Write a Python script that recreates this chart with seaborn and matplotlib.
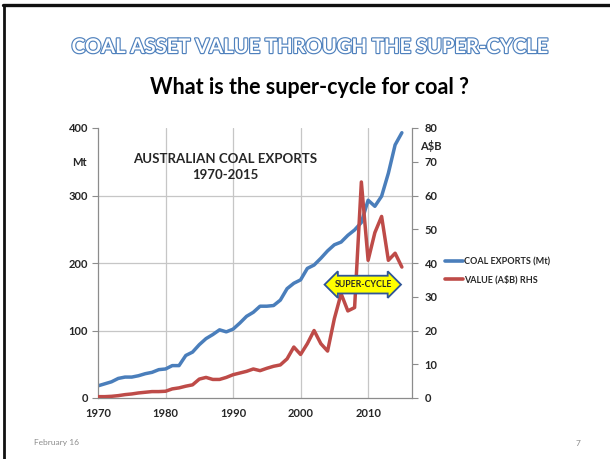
import matplotlib
matplotlib.use("Agg")
import matplotlib.pyplot as plt
import matplotlib.patheffects as pe
from matplotlib.lines import Line2D
import seaborn as sns
import pandas as pd

# ---------------- data ----------------
years = list(range(1970, 2016))
coal_exports_mt = [18, 21, 24, 29, 31, 31, 33, 36, 38, 42,
                   43, 48, 48, 63, 68, 79, 88, 94, 101, 98,
                   102, 111, 121, 127, 136, 136, 137, 145, 162, 170,
                   175, 192, 197, 207, 218, 227, 231, 241, 249, 260,
                   293, 284, 299, 333, 375, 393]
value_ab = [0.4, 0.4, 0.5, 0.7, 1.0, 1.2, 1.5, 1.7, 1.9, 1.9,
            2.0, 2.7, 3.0, 3.5, 3.9, 5.6, 6.1, 5.5, 5.5, 6.1,
            6.9, 7.4, 7.9, 8.6, 8.1, 8.8, 9.4, 9.8, 11.6, 15.1,
            12.9, 16.1, 20.0, 16.1, 13.9, 23.5, 30.9, 25.8, 26.8, 64.0,
            40.8, 49.0, 53.8, 40.8, 42.9, 38.8]
x_ticks = [1970, 1980, 1990, 2000, 2010]
left_ticks = [0, 100, 200, 300, 400]
right_ticks = [0, 10, 20, 30, 40, 50, 60, 70, 80]

series_names = ["COAL EXPORTS (Mt)", "VALUE (A$B) RHS"]
title_text = "COAL ASSET VALUE THROUGH THE SUPER-CYCLE"
subtitle_text = "What is the super-cycle for coal ?"
inner_title = "AUSTRALIAN COAL EXPORTS\n1970-2015"
arrow_label = "SUPER-CYCLE"

BLUE = "#4a7ebb"
RED = "#be4b48"
AXC = "#8c8c8c"
GRID = "#c6c6c6"

sns.set_theme(style="white")
plt.rcParams['font.family'] = ['Lato', 'DejaVu Sans']

df = pd.DataFrame({"year": years, "mt": coal_exports_mt, "ab": value_ab})

fig = plt.figure(figsize=(6.1, 4.59), dpi=100)
fig.patch.set_facecolor("white")
ax = fig.add_axes([98 / 610, 61 / 459, 314 / 610, 270 / 459])
ax2 = ax.twinx()

sns.lineplot(data=df, x="year", y="mt", ax=ax, color=BLUE, lw=2.5,
             solid_capstyle="round", label=series_names[0], legend=False)
sns.lineplot(data=df, x="year", y="ab", ax=ax2, color=RED, lw=2.5,
             solid_capstyle="round", label=series_names[1], legend=False)

ax.set_xlim(1970, 2016.5)
ax.set_ylim(0, 400)
ax2.set_ylim(0, 80)
ax.set_xticks(x_ticks)
ax.set_yticks(left_ticks)
ax2.set_yticks(right_ticks)
ax.set_xlabel("")
ax.set_ylabel("")
ax2.set_ylabel("")

ax.grid(True, color=GRID, lw=0.9)
ax.yaxis.get_gridlines()[-1].set_visible(False)
ax.yaxis.get_gridlines()[0].set_visible(False)
ax.xaxis.get_gridlines()[0].set_visible(False)
ax2.grid(False)

for a in (ax, ax2):
    for s in a.spines.values():
        s.set_color(AXC)
        s.set_linewidth(0.9)
    a.spines["top"].set_visible(False)
ax.spines["right"].set_visible(False)
ax2.spines["left"].set_visible(False)
ax2.spines["bottom"].set_visible(False)

ax.tick_params(axis="both", direction="out", length=4, width=0.8, color=AXC,
               labelsize=8, pad=3)
ax2.tick_params(axis="y", direction="out", length=4, width=0.8, color=AXC,
                labelsize=8, pad=5, left=False, right=True)
for lab in ax.get_xticklabels() + ax.get_yticklabels() + ax2.get_yticklabels():
    lab.set_fontweight("bold")

# axis unit labels
fig.text(79 / 610, 1 - 162 / 459, "Mt", fontsize=8, fontweight="bold",
         ha="center", va="center")
fig.text(431 / 610, 1 - 146 / 459, "A$B", fontsize=8, fontweight="bold",
         ha="center", va="center")

# inner title
ax.text(0.405, 0.855, inner_title, transform=ax.transAxes, ha="center", va="center",
        fontsize=9.5, fontweight="bold", linespacing=1.45)

# super-cycle arrow
ax2.text(2009.3, 33.6, arrow_label, ha="center", va="center", fontsize=6.3,
         fontweight="bold", zorder=10,
         bbox=dict(boxstyle="darrow,pad=0.5", fc="#ffff00", ec="#2f5597", lw=1.3))

# legend
handles = [Line2D([], [], color=BLUE, lw=2.6), Line2D([], [], color=RED, lw=2.6)]
leg = fig.legend(handles, series_names, loc="center left",
                 bbox_to_anchor=(437 / 610, 1 - 271 / 459), frameon=False,
                 prop={"size": 6.5, "weight": "bold"}, handlelength=2.0,
                 handletextpad=0.05, labelspacing=0.95)

# slide titles
fig.text(0.508, 1 - 47 / 459, title_text, ha="center", va="center", fontsize=14.5,
         fontweight="bold", color="white",
         path_effects=[pe.withStroke(linewidth=1.7, foreground="#4f81bd")])
fig.text(0.508, 1 - 88 / 459, subtitle_text, ha="center", va="center",
         fontsize=15.5, fontweight="bold", color="black")

# footer
fig.text(34 / 610, 1 - 443 / 459, "February 16", fontsize=6, color="#8c8c8c",
         ha="left", va="center")
fig.text(578 / 610, 1 - 443 / 459, "7", fontsize=6, color="#8c8c8c",
         ha="center", va="center")

# slide frame lines
fig.add_artist(Line2D([0.0065, 0.0065], [0, 0.99], transform=fig.transFigure,
                      color="#111111", lw=2.0))
fig.add_artist(Line2D([0.005, 1.0], [1 - 5 / 459, 1 - 5 / 459], transform=fig.transFigure,
                      color="#111111", lw=2.4))

fig.savefig("out.png", dpi=100, facecolor="white")
